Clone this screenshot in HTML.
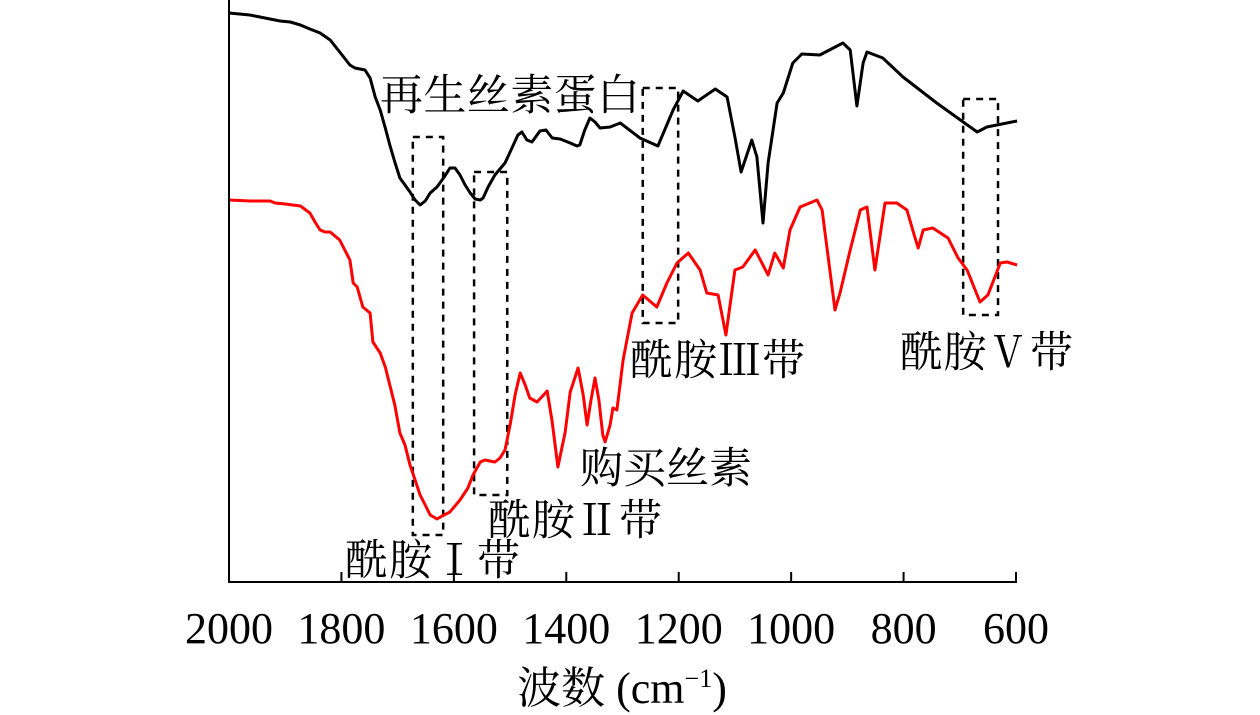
<!DOCTYPE html>
<html><head><meta charset="utf-8">
<style>
html,body{margin:0;padding:0;background:#fff;}
svg{display:block;}
text{font-family:"Liberation Serif","Noto Serif CJK SC",serif;fill:#000;}
</style></head>
<body>
<svg id="chart" width="1260" height="715" viewBox="0 0 1260 715" xmlns="http://www.w3.org/2000/svg">
<g id="boxes"></g>
<g id="series"></g>
<g id="axes"></g>
</svg>
<script>
// x: wavenumber (cm-1); y: relative transmittance (arbitrary units)
const xTicks = [2000, 1800, 1600, 1400, 1200, 1000, 800, 600];
const regenWn = [2000,1963,1927,1909,1891,1873,1856,1838,1820,1803,1785,1776,1758,1749,1740,1731,1722,1714,1705,1696,1687,1678,1669,1660,1651,1642,1630,1616,1607,1598,1589,1580,1571,1562,1553,1548,1539,1527,1509,1500,1486,1479,1470,1461,1447,1436,1425,1411,1393,1381,1376,1367,1358,1349,1340,1322,1304,1269,1237,1210,1192,1166,1135,1114,1100,1089,1070,1061,1050,1041,1025,1014,997,981,949,908,895,883,872,865,837,801,741,694,669,652,598];
const regenT = [569,567,563,561,560,557,553,549,542,530,517,514,512,504,485,472,454,437,420,404,397,390,382,377,381,389,395,406,414,414,407,397,389,383,382,384,395,407,419,430,447,450,442,440,451,452,444,443,439,436,437,452,464,460,454,455,459,444,436,472,491,481,493,485,445,410,442,425,359,419,479,489,519,528,527,539,532,476,519,530,524,505,479,460,450,455,461];
const boughtWn = [2000,1963,1927,1918,1900,1873,1856,1847,1838,1829,1820,1803,1794,1785,1779,1772,1762,1749,1744,1731,1722,1705,1696,1687,1678,1669,1660,1651,1642,1630,1621,1607,1589,1575,1566,1553,1545,1527,1518,1509,1500,1491,1482,1473,1465,1452,1434,1425,1415,1402,1393,1379,1370,1363,1356,1349,1342,1335,1331,1322,1317,1310,1299,1283,1264,1239,1221,1203,1183,1162,1150,1130,1116,1100,1086,1064,1041,1029,1014,1002,984,954,945,922,913,895,877,865,851,833,812,794,780,774,765,748,721,703,687,664,650,628,616,598];
const boughtT = [382,381,381,379,378,376,369,360,352,350,350,342,332,322,299,295,275,269,240,229,215,177,149,137,117,102,87,77,67,63,66,70,82,94,107,120,122,120,124,132,157,187,209,197,184,180,191,160,115,150,190,214,187,157,182,204,182,147,140,157,174,172,222,269,287,275,299,319,329,312,289,287,247,312,315,332,307,329,314,352,375,382,372,272,289,332,372,375,312,379,379,372,345,334,352,354,344,324,312,280,287,319,320,317];
// band boxes
const boxWnL = [1673, 1564, 1264, 694];
const boxWnR = [1619, 1505, 1201, 632];
const boxTop = [445, 410, 494, 483];
const boxBot = [47, 87, 259, 267];

const X0 = 229, X1 = 1016, AXY = 582;
const xs = wn => X0 + (2000 - wn) / 1400 * (X1 - X0);
const ys = t => AXY - t;
const NS = "http://www.w3.org/2000/svg";
function mk(tag, attrs, parent){const e=document.createElementNS(NS,tag);for(const k in attrs)e.setAttribute(k,attrs[k]);parent.appendChild(e);return e;}

const series = document.getElementById('series');
function line(wn, t, color, name){
  let d = wn.map((w,i)=>(i?'L':'M')+xs(w).toFixed(1)+','+ys(t[i]).toFixed(1)).join('');
  const p = mk('path',{d:d,fill:'none',stroke:color,'stroke-width':3,'stroke-linejoin':'round'},series);
  
  
}
line(boughtWn, boughtT, '#ff0000', 'purchased-silk-line');
line(regenWn, regenT, '#000000', 'regenerated-fibroin-line');

const boxes = document.getElementById('boxes');
for(let i=0;i<boxWnL.length;i++){
  const x=xs(boxWnL[i]), x2=xs(boxWnR[i]), y=ys(boxTop[i]), y2=ys(boxBot[i]);
  const r = mk('rect',{x:x,y:y,width:x2-x,height:y2-y,fill:'none',stroke:'#000','stroke-width':2.5,'stroke-dasharray':'7,6'},boxes);
  
  
}

const axes = document.getElementById('axes');
const ya = mk('line',{x1:X0,y1:0,x2:X0,y2:AXY+1,stroke:'#000','stroke-width':2},axes);


const xa = mk('line',{x1:X0-1,y1:AXY,x2:X1+1,y2:AXY,stroke:'#000','stroke-width':2},axes);


xTicks.forEach(v=>{
  const tk = mk('line',{x1:xs(v),y1:AXY,x2:xs(v),y2:AXY-10,stroke:'#000','stroke-width':2},axes);
  
  
  const tx = mk('text',{x:xs(v),y:643,'text-anchor':'middle','font-size':44},axes);
  tx.textContent = v;
  
  
});
</script>
<svg style="position:absolute;left:0;top:0" width="1260" height="715">
<text x="622" y="703" text-anchor="middle" font-size="44">波数 (cm<tspan font-size="26" dy="-16">−1</tspan><tspan dy="16">)</tspan></text>
<text x="380" y="110" font-size="43" textLength="260">再生丝素蛋白</text>
<text x="580" y="483" font-size="43" textLength="172">购买丝素</text>
<text x="345" y="575" font-size="43" textLength="175">酰胺Ⅰ带</text>
<text x="488" y="535" font-size="43" textLength="174">酰胺Ⅱ带</text>
<text x="630" y="375" font-size="43" textLength="175">酰胺Ⅲ带</text>
<text x="900" y="367" font-size="43" textLength="173">酰胺Ⅴ带</text>
</svg>
</body></html>
